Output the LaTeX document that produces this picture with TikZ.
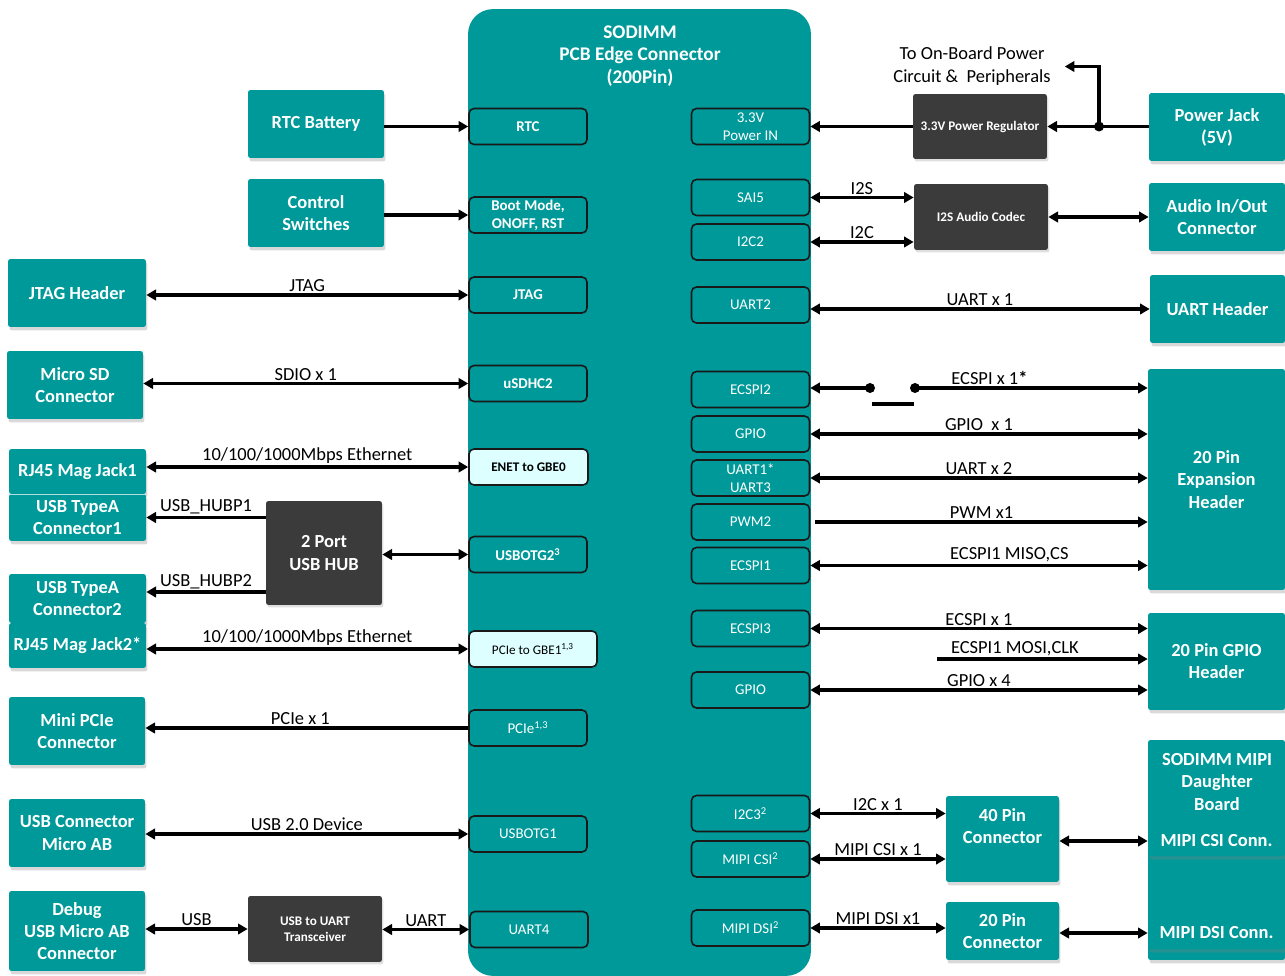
\documentclass[tikz,border=0pt]{standalone}
\usepackage{fontspec}
\setmainfont{Carlito}
\usepackage{xcolor}
\usetikzlibrary{arrows.meta, shadows}
\definecolor{sodteal}{rgb}{0.0, 0.6, 0.6}
\definecolor{chipgray}{rgb}{0.23, 0.23, 0.23}
\definecolor{palecyan}{rgb}{0.87, 1.0, 1.0}

\begin{document}
\begin{tikzpicture}[x=0.02cm,y=-0.02cm]
	\tikzstyle{pin} = [draw=black!90,line width=0.9pt,rounded corners=0.1cm,fill=sodteal,text=white,minimum width=2.36cm,minimum height=0.72cm,inner sep=0pt,align=center,font=\fontsize{8.5}{10}\selectfont]
	\tikzstyle{pinb} = [pin,font=\fontsize{8.5}{10}\selectfont\bfseries]
	\tikzstyle{pinl} = [pin,fill=palecyan,text=black,font=\fontsize{7.5}{9}\selectfont]
	\tikzstyle{box} = [fill=sodteal,text=white,rounded corners=0.05cm,drop shadow={shadow xshift=0.03cm,shadow yshift=-0.07cm,opacity=0.3},minimum width=2.72cm,minimum height=1.36cm,inner sep=0pt,align=center,font=\fontsize{10.5}{12.6}\selectfont\bfseries]
	\tikzstyle{chip} = [fill=chipgray,text=white,rounded corners=0.05cm,drop shadow={shadow xshift=0.03cm,shadow yshift=-0.05cm,opacity=0.25},minimum width=2.68cm,minimum height=1.32cm,inner sep=0pt,align=center,font=\fontsize{7.5}{9}\selectfont\bfseries]
	\tikzstyle{edge} = [line width=1.8pt,>={Triangle[length=5.5pt,width=6pt]}]
	\tikzstyle{lbl} = [above,inner sep=1pt,font=\fontsize{10.5}{12}\selectfont]
	\useasboundingbox (0,0) rectangle (1285,976);
	
	\node[fill=sodteal,rounded corners=0.5cm,minimum width=6.86cm,minimum height=19.34cm,inner sep=0pt] (sod) at (639.5,492.5) {};
	\node[text=white,align=center,font=\fontsize{11}{13}\selectfont\bfseries] (sodt) at (640,56) {SODIMM\\PCB Edge Connector\\(200Pin)};
	
	\node[pinb] (lp1) at (528,126.5) {RTC};
	\node[pinb] (lp2) at (528,215) {Boot Mode,\\ONOFF, RST};
	\node[pinb] (lp3) at (528,295) {JTAG};
	\node[pinb] (lp4) at (528,383.5) {uSDHC2};
	\node[pinl,minimum width=2.38cm,font=\fontsize{7.5}{9}\selectfont\bfseries] (lp5) at (528.5,467) {ENET to GBE0};
	\node[pinb] (lp6) at (528,554.5) {USBOTG2\textsuperscript{3}};
	\node[pinl,minimum width=2.56cm] (lp7) at (533,649) {PCIe to GBE1\textsuperscript{1,3}};
	\node[pin] (lp8) at (528,728) {PCIe\textsuperscript{1,3}};
	\node[pin] (lp9) at (528,834) {USBOTG1};
	\node[pin] (lp10) at (529,929.5) {UART4};
	
	\node[pin] (rp1) at (750.5,126.5) {3.3V\\Power IN};
	\node[pin] (rp2) at (750.5,197.5) {SAI5};
	\node[pin] (rp3) at (750.5,242) {I2C2};
	\node[pin] (rp4) at (750.5,305) {UART2};
	\node[pin] (rp5) at (750.5,389.5) {ECSPI2};
	\node[pin] (rp6) at (750.5,434) {GPIO};
	\node[pin] (rp7) at (750.5,478) {UART1*\\UART3};
	\node[pin] (rp8) at (750.5,522) {PWM2};
	\node[pin] (rp9) at (750.5,565.5) {ECSPI1};
	\node[pin] (rp10) at (750.5,628.5) {ECSPI3};
	\node[pin] (rp11) at (750.5,690) {GPIO};
	\node[pin] (rp12) at (750.5,813.5) {I2C3\textsuperscript{2}};
	\node[pin] (rp13) at (750.5,859) {MIPI CSI\textsuperscript{2}};
	\node[pin] (rp14) at (750.5,928) {MIPI DSI\textsuperscript{2}};
	
	\node[box] (lb1) at (316,124) {RTC Battery};
	\node[box] (lb2) at (316,213) {Control\\Switches};
	\node[box,minimum width=2.76cm] (lb3) at (77,293) {JTAG Header};
	\node[box] (lb4) at (75,385) {Micro SD\\Connector};
	\node[box,minimum width=2.74cm,minimum height=0.9cm] (lb5) at (77.5,471.5) {RJ45 Mag Jack1};
	\node[box,minimum width=2.74cm,minimum height=0.94cm] (lb6) at (77.5,517.5) {USB TypeA\\Connector1};
	\draw[white!70!sodteal,line width=0.8pt] (lb5.south west) -- (lb5.south east);
	\node[box,minimum width=2.74cm,minimum height=0.98cm] (lb7) at (77.5,598.5) {USB TypeA\\Connector2};
	\node[box,minimum width=2.74cm,minimum height=0.9cm] (lb8) at (77.5,645.5) {RJ45 Mag Jack2*};
	\node[box] (lb9) at (77,731) {Mini PCIe\\Connector};
	\node[box] (lb10) at (77,833) {USB Connector\\Micro AB};
	\node[box,minimum height=1.6cm] (lb11) at (77,931) {Debug\\USB Micro AB\\Connector};
	
	\node[chip,minimum width=2.32cm,minimum height=2.08cm,font=\fontsize{10.5}{13}\selectfont\bfseries] (hub) at (324,553) {2 Port\\USB HUB};
	\node[chip] (ucv) at (315,929) {USB to UART\\Transceiver};
	\node[chip,minimum height=1.3cm] (reg) at (980,126.5) {3.3V Power Regulator};
	\node[chip] (codec) at (981,217) {I2S Audio Codec};
	
	\node[box] (rb1) at (1217,127) {Power Jack\\(5V)};
	\node[box] (rb2) at (1217,217) {Audio In/Out\\Connector};
	\node[box,minimum width=2.7cm] (rb3) at (1217.5,309) {UART Header};
	\node[box,minimum width=2.74cm,minimum height=4.42cm] (rb4) at (1216.5,479.5) {20 Pin\\Expansion\\Header};
	\node[box,minimum width=2.74cm,minimum height=1.94cm] (rb5) at (1216.5,661.5) {20 Pin GPIO\\Header};
	\node[box,minimum width=2.26cm,minimum height=1.72cm] (rb6) at (1002.5,839) {40 Pin\\Connector\\[2pt]\mbox{}};
	\node[box,minimum width=2.26cm,minimum height=1.16cm] (rb7) at (1002.5,931) {20 Pin\\Connector};
	\node[box,minimum width=2.74cm,minimum height=4.4cm] (rb8) at (1216.5,850) {};
	\node[text=white,align=center,font=\fontsize{10.5}{13}\selectfont\bfseries] (rb8t) at (1217,782) {SODIMM MIPI\\Daughter\\Board};
	\node[box,minimum width=2.74cm,minimum height=0.6cm] (rb9) at (1216.5,841) {MIPI CSI Conn.};
	\node[box,minimum width=2.74cm,minimum height=0.64cm] (rb10) at (1216.5,933) {MIPI DSI Conn.};
	
	\node[align=center,font=\fontsize{10.5}{13}\selectfont] (obp) at (972,66.5) {To On-Board Power\\Circuit \&\ \ Peripherals};
	
	\draw[edge,->] (lb1.east |- lp1) -- (lp1.west);
	\draw[edge,->] (lb2.east |- lp2) -- (lp2.west);
	\draw[edge,<->] (lb3.east |- lp3) -- node[lbl]{JTAG} (lp3.west);
	\draw[edge,<->] (lb4.east |- lp4) -- node[lbl]{SDIO x 1} (lp4.west);
	\draw[edge,<->] (lb5.east |- lp5) -- node[lbl]{10/100/1000Mbps Ethernet} (lp5.west);
	\draw[edge,->] (lb6.east -| hub.west) -- node[lbl]{USB\_HUBP1} (lb6.east);
	\coordinate (hp2) at (146,592);
	\draw[edge,->] (hub.west |- hp2) -- node[lbl]{USB\_HUBP2} (lb7.east |- hp2);
	\draw[edge,<->] (hub.east |- lp6) -- (lp6.west);
	\draw[edge,<->] (lb8.east |- lp7) -- node[lbl]{10/100/1000Mbps Ethernet} (lp7.west);
	\draw[edge,->] (lp8.west) -- node[lbl,pos=0.52]{PCIe x 1} (lp8 -| lb9.east);
	\draw[edge,<->] (lb10.east |- lp9) -- node[lbl]{USB 2.0 Device} (lp9.west);
	\draw[edge,<->] (lb11.east |- ucv) -- node[lbl]{USB} (ucv.west);
	\draw[edge,<->] (ucv.east |- lp10) -- node[lbl]{UART} (lp10.west);
	
	\draw[edge,->] (reg.west |- rp1) -- (rp1.east);
	\coordinate (pjd) at (1099,126.5);
	\draw[edge,->] (rb1.west |- reg) -- (reg.east);
	\draw[edge,->] (pjd) |- ([xshift=0.16cm]obp.east);
	\fill (pjd) circle (0.1cm);
	\draw[edge,<->] (rp2.east) -- node[lbl]{I2S} (rp2 -| codec.west);
	\draw[edge,<->] (rp3.east) -- node[lbl]{I2C} (rp3 -| codec.west);
	\draw[edge,<->] (codec.east) -- (rb2.west);
	\draw[edge,<->] (rp4.east |- rb3) -- node[lbl]{UART x 1} (rb3.west);
	
	\coordinate (sw1) at (870,388);
	\coordinate (sw2) at (915,388);
	\coordinate (sw3) at (872,404);
	\coordinate (sw4) at (914,404);
	\draw[edge,->] (sw1) -- (rp5.east |- sw1);
	\draw[edge,->] (sw2) -- node[lbl,pos=0.32]{ECSPI x 1\textbf{*}} (rb4.west |- sw2);
	\fill (sw1) circle (0.1cm);
	\fill (sw2) circle (0.1cm);
	\draw[edge] (sw3) -- (sw4);
	\draw[edge,<->] (rp6.east) -- node[lbl]{GPIO \ x 1} (rp6 -| rb4.west);
	\draw[edge,<->] (rp7.east) -- node[lbl]{UART x 2} (rp7 -| rb4.west);
	\draw[edge,->] ([xshift=0.1cm]rp8.east) -- node[lbl]{PWM x1} (rp8 -| rb4.west);
	\draw[edge,<->] (rp9.east) -- node[lbl,pos=0.59]{ECSPI1 MISO,CS} (rp9 -| rb4.west);
	\draw[edge,<->] (rp10.east) -- node[lbl]{ECSPI x 1} (rp10 -| rb5.west);
	\coordinate (mosi) at (937,659);
	\draw[edge,->] (mosi) -- node[lbl,pos=0.37]{ECSPI1 MOSI,CLK} (mosi -| rb5.west);
	\draw[edge,<->] (rp11.east) -- node[lbl]{GPIO x 4} (rp11 -| rb5.west);
	\draw[edge,<->] (rp12.east) -- node[lbl]{I2C x 1} (rp12 -| rb6.west);
	\draw[edge,<->] (rp13.east) -- node[lbl]{MIPI CSI x 1} (rp13 -| rb6.west);
	\draw[edge,<->] (rp14.east) -- node[lbl]{MIPI DSI x1} (rp14 -| rb7.west);
	\draw[edge,<->] (rb6.east |- rb9) -- (rb9.west);
	\draw[edge,<->] (rb7.east |- rb10) -- (rb10.west);
\end{tikzpicture}
\end{document}
